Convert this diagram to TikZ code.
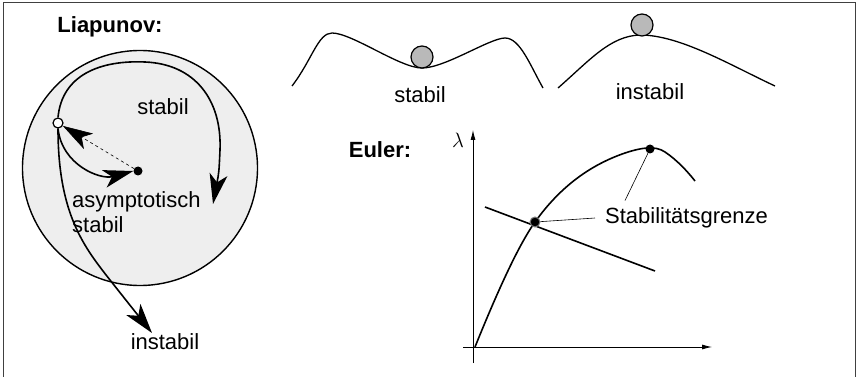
\documentclass[tikz,border=0pt]{standalone}
\usepackage{fontspec}
\setmainfont{Liberation Sans}
\usetikzlibrary{arrows.meta,positioning}

\begin{document}
\begin{tikzpicture}[
    x=1pt, y=-1pt,
    lbl/.style={font=\fontsize{22}{25}\selectfont, inner sep=0pt},
    head/.style={font=\fontsize{22}{25}\selectfont\bfseries, inner sep=0pt},
    curve/.style={line width=1.6pt},
    thinline/.style={line width=0.6pt},
    bigtip/.style={-{Stealth[length=30pt,width=18pt,inset=8pt]}},
    axis/.style={line width=0.8pt, -{Latex[length=10pt,width=5pt]}},
    ball/.style={circle, draw, line width=1.2pt, fill=gray!55, minimum size=22pt, inner sep=0pt},
    dot/.style={circle, fill=black, minimum size=9pt, inner sep=0pt},
]
\useasboundingbox (0,0) rectangle (857,377);

% Rahmen
\draw[line width=1pt, black!75] (3.5,377) -- (3.5,2.5) -- (855.5,2.5) -- (855.5,377);

% --- Liapunov ---
\node[head] (liap) at (110,27) {Liapunov:};
\node[circle, draw, line width=1.4pt, fill=gray!13, minimum size=235pt, inner sep=0pt] (region) at (140,168) {};

\node[circle, draw, line width=1.2pt, fill=white, minimum size=10pt, inner sep=0pt] (start) at (58,123) {};
\node[dot] (eq) at (138,171) {};
\coordinate (stabilEnd) at (213,204);
\coordinate (instEnd) at (152,333);

% stabil
\draw[curve, bigtip] (start.north) .. controls (62,75) and (100,60) .. (145,62)
    .. controls (195,64) and (222,100) .. (220,150) .. controls (219,172) .. (stabilEnd);
% asymptotisch stabil
\draw[curve, bigtip] (start.south) .. controls (62,165) and (100,180) .. (eq.west);
\draw[thinline, dashed, bigtip] (eq) -- (start);
% instabil
\draw[curve, bigtip] (start.south) .. controls (58,215) and (85,248) .. (110,280) -- (instEnd);

\node[lbl] (stabilL) at (163,107) {stabil};
\node[lbl, align=left, anchor=west] (asym) at (72,212) {asymptotisch\\stabil};
\node[lbl] (instabilL) at (165,342) {instabil};

% --- Mulde und Kuppe ---
\draw[curve, line width=1.3pt] (292,86) .. controls (312,60) and (318,33) .. (332,33)
    .. controls (352,33) and (400,68) .. (422,68)
    .. controls (445,68) and (490,38) .. (505,38)
    .. controls (520,38) and (530,65) .. (543,88);
\node[ball] (ballS) at (422,57) {};
\node[lbl] (stabilM) at (420,95) {stabil};

\draw[curve, line width=1.3pt] (558,88) .. controls (590,60) and (610,36) .. (640,35)
    .. controls (680,35) and (730,65) .. (775,86);
\node[ball] (ballI) at (642,25) {};
\node[lbl] (instabilM) at (650,92) {instabil};

% --- Euler ---
\node[head] (euler) at (380,150) {Euler:};
\draw[axis] (473,363) -- (473,130);
\draw[axis] (463,347) -- (712,347);
\node[lbl] (lam) at (458,140) {$\lambda$};

\draw[curve] (475,347) .. controls (500,285) and (520,243) .. (535,222)
    .. controls (560,187) and (590,165) .. (625,153)
    .. controls (640,148) and (655,145) .. (665,152)
    .. controls (677,160) and (688,172) .. (695,181);
\draw[curve] (485,207) -- (655,271);

\node[circle, draw=gray, line width=1pt, fill=black, minimum size=10pt, inner sep=0pt] (cross) at (535,222) {};
\node[dot] (peak) at (650,149) {};
\node[lbl, anchor=west] (grenze) at (605,218) {Stabilitätsgrenze};
\draw[thinline] (cross) -- ([xshift=-10pt]grenze.west);
\draw[thinline] (peak) -- ([xshift=20pt,yshift=7pt]grenze.north west);

\end{tikzpicture}
\end{document}
